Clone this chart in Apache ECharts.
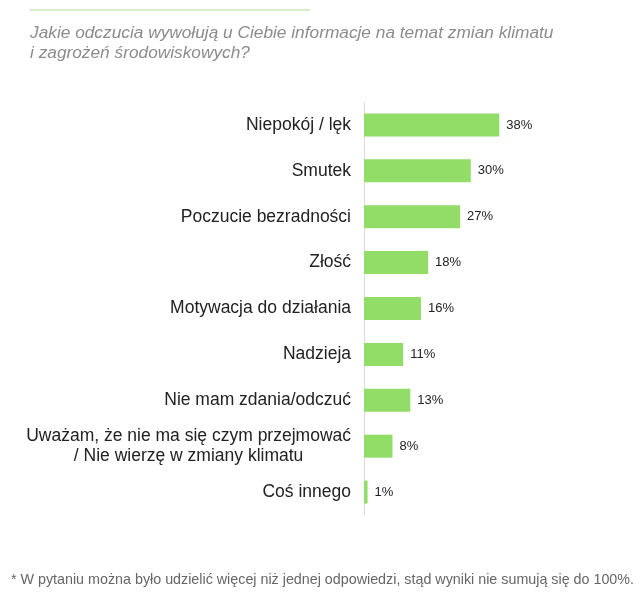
<!DOCTYPE html>
<html>
<head>
    <meta charset="utf-8">
    <title></title>
    <script src="https://cdn.jsdelivr.net/npm/echarts@6/dist/echarts.min.js"></script>
    <style>
        html, body { margin: 0; padding: 0; background: #fff; }
    </style>
</head>
<body>
    <div id="main" style="width: 642px;height:603px;"></div>
    <script type="text/javascript">
        const categories = [
            'Niepokój / lęk',
            'Smutek',
            'Poczucie bezradności',
            'Złość',
            'Motywacja do działania',
            'Nadzieja',
            'Nie mam zdania/odczuć',
            'Uważam, że nie ma się czym przejmować\n/ Nie wierzę w zmiany klimatu',
            'Coś innego'
        ];
        const values = [38, 30, 27, 18, 16, 11, 13, 8, 1];

        const titleText = 'Jakie odczucia wywołują u Ciebie informacje na temat zmian klimatu\ni zagrożeń środowiskowych?';
        const footText = '* W pytaniu można było udzielić więcej niż jednej odpowiedzi, stąd wyniki nie sumują się do 100%.';

        const font = 'Liberation Sans, Arial, sans-serif';
        const myChart = echarts.init(document.getElementById('main'));
        const options = {
            animation: false,
            textStyle: { fontFamily: font },
            title: {
                text: titleText,
                left: 25,
                top: 18,
                textStyle: {
                    fontSize: 17.3,
                    fontStyle: 'italic',
                    fontWeight: 'normal',
                    color: '#8c8c8c',
                    lineHeight: 20,
                    fontFamily: font
                }
            },
            graphic: [
                {
                    type: 'line',
                    shape: { x1: 30, y1: 10, x2: 310, y2: 10 },
                    style: { stroke: '#c9e8b3', lineWidth: 1.5 }
                },
                {
                    type: 'text',
                    right: 8,
                    top: 573,
                    style: {
                        text: footText,
                        fontSize: 14.3,
                        fill: '#666',
                        fontFamily: font
                    }
                }
            ],
            grid: { left: 364, right: 100, top: 102, bottom: 88, containLabel: false },
            xAxis: {
                type: 'value',
                min: 0,
                max: 50,
                show: false
            },
            yAxis: {
                type: 'category',
                data: categories,
                inverse: true,
                axisTick: { show: false },
                axisLine: { show: true, lineStyle: { color: '#dedede', width: 1 } },
                axisLabel: {
                    margin: 13,
                    fontSize: 17.5,
                    color: '#222',
                    lineHeight: 20,
                    formatter: function (v) {
                        return v.indexOf('\n') >= 0 ? '{c|' + v + '}' : v;
                    },
                    rich: {
                        c: { align: 'center', fontSize: 17.5, color: '#222', lineHeight: 20 }
                    }
                }
            },
            series: [{
                type: 'bar',
                data: values,
                barWidth: 23,
                itemStyle: { color: '#92dd68' },
                label: {
                    show: true,
                    position: 'right',
                    distance: 7,
                    formatter: '{c}%',
                    fontSize: 13,
                    color: '#222'
                }
            }]
        };
        myChart.setOption(options);
    </script>
</body>
</html>
